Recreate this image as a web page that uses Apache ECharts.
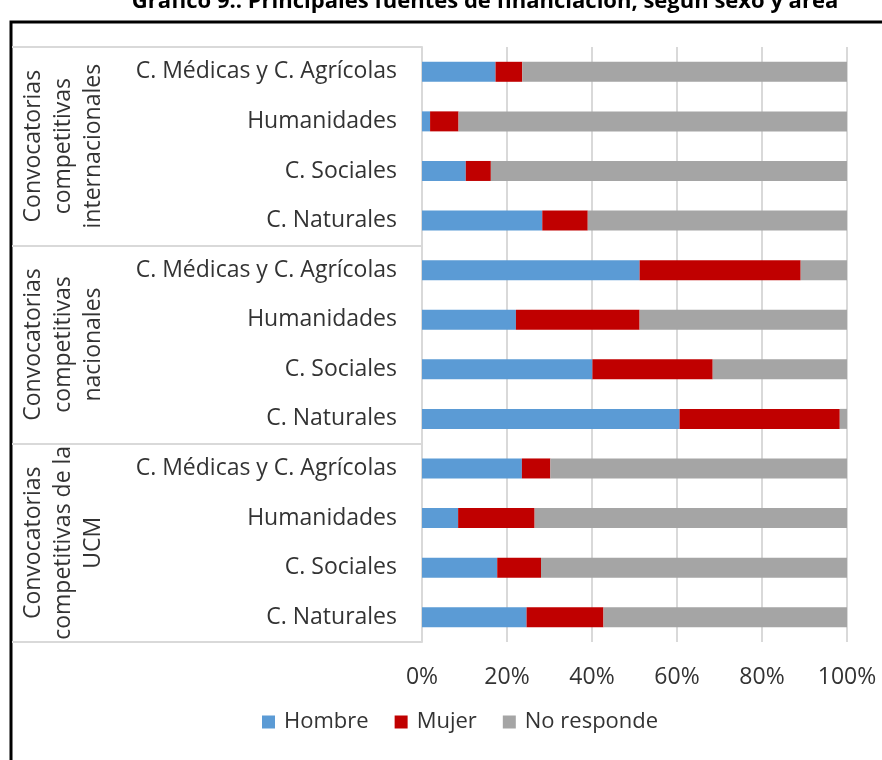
<!DOCTYPE html>
<html>
<head>
<meta charset="utf-8">
<script src="https://cdn.jsdelivr.net/npm/echarts@6/dist/echarts.min.js"></script>
<style>
html,body{margin:0;padding:0;background:#fff;}
#chart{width:882px;height:760px;}
</style>
</head>
<body>
<div id="chart"></div>
<script>
const categories = [
  'C. Médicas y C. Agrícolas', 'Humanidades', 'C. Sociales', 'C. Naturales',
  'C. Médicas y C. Agrícolas', 'Humanidades', 'C. Sociales', 'C. Naturales',
  'C. Médicas y C. Agrícolas', 'Humanidades', 'C. Sociales', 'C. Naturales'
];
const groups = [
  'Convocatorias\ncompetitivas\ninternacionales',
  'Convocatorias\ncompetitivas\nnacionales',
  'Convocatorias\ncompetitivas de la\nUCM'
];
const hombre     = [17.3, 1.9, 10.3, 28.3, 51.2, 22.1, 40.1, 60.6, 23.5, 8.5, 17.7, 24.6];
const mujer      = [6.3, 6.7, 5.9, 10.7, 37.9, 29.1, 28.3, 37.7, 6.7, 18.0, 10.3, 18.1];
const noResponde = [76.4, 91.4, 83.8, 61.0, 10.9, 48.8, 31.6, 1.7, 69.8, 73.5, 72.0, 57.3];
const seriesNames = ['Hombre', 'Mujer', 'No responde'];
const colors = ['#5b9bd5', '#c00000', '#a5a5a5'];
const titleText = 'Gráfico 9.: Principales fuentes de financiación, según sexo y área';

const FONT = '"Open Sans", Lato, sans-serif';
const TXT = '#333333';
const chart = echarts.init(document.getElementById('chart'), null, {renderer: 'canvas'});

const seriesData = [hombre, mujer, noResponde];
const option = {
  backgroundColor: '#fff',
  animation: false,
  textStyle: {fontFamily: FONT},
  title: {
    text: titleText,
    left: 480, textAlign: 'center',
    top: -14,
    textStyle: {fontFamily: FONT, fontSize: 22, fontWeight: 'bold', color: '#000'}
  },
  graphic: [{
    type: 'rect',
    shape: {x: 11, y: 22, width: 1000, height: 1000},
    style: {fill: 'none', stroke: '#000', lineWidth: 3},
    silent: true
  }],
  legend: {
    data: seriesNames,
    left: 257, top: 706,
    itemWidth: 13, itemHeight: 13, itemGap: 26,
    icon: 'rect',
    textStyle: {fontFamily: FONT, fontSize: 22, color: TXT, padding: [0,0,0,4]}
  },
  grid: {left: 422, right: 35, top: 47, bottom: 118, containLabel: false},
  xAxis: {
    type: 'value', min: 0, max: 100, interval: 20,
    axisLine: {show: false}, axisTick: {show: false},
    splitLine: {lineStyle: {color: '#d9d9d9', width: 2}},
    axisLabel: {formatter: '{value}%', fontFamily: FONT, fontSize: 23, color: TXT, margin: 24}
  },
  yAxis: [{
    type: 'category', data: categories, inverse: true,
    axisLine: {show: true, lineStyle: {color: '#d9d9d9', width: 2}},
    axisTick: {show: false},
    axisLabel: {interval: 0, fontFamily: FONT, fontSize: 23, color: TXT, margin: 25}
  }, {
    type: 'category', data: groups, inverse: true, position: 'left',
    axisLine: {show: false},
    axisTick: {show: true, length: 410, lineStyle: {color: '#d9d9d9', width: 2}},
    axisLabel: {interval: 0, hideOverlap: false, rotate: 90, fontFamily: FONT, fontSize: 23, color: TXT, margin: 314, lineHeight: 30}
  }],
  series: seriesNames.map((name, i) => ({
    name, type: 'bar', stack: 'total', yAxisIndex: 0,
    data: seriesData[i], barWidth: 20,
    itemStyle: {color: colors[i]}
  }))
};
chart.setOption(option);
</script>
</body>
</html>
